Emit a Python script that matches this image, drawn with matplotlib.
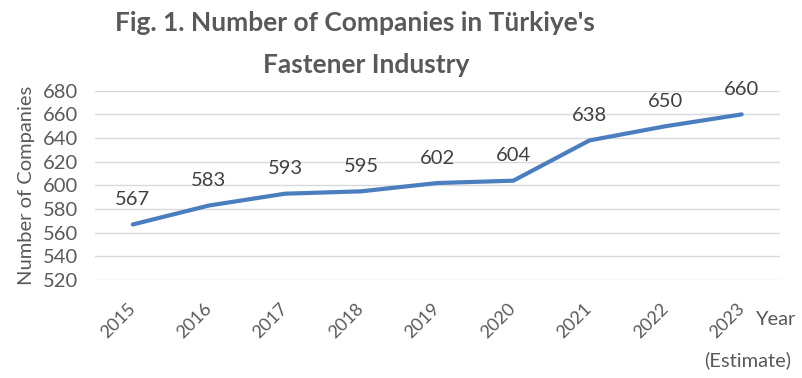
import matplotlib
matplotlib.use("Agg")
import matplotlib.pyplot as plt

years = ["2015", "2016", "2017", "2018", "2019", "2020", "2021", "2022", "2023"]
companies = [567, 583, 593, 595, 602, 604, 638, 650, 660]
y_ticks = [520, 540, 560, 580, 600, 620, 640, 660, 680]

plt.rcParams["font.family"] = ["Lato", "DejaVu Sans"]
text_color = "#595959"
fs = 14.5

fig = plt.figure(figsize=(8.03, 3.78), dpi=100)
ax = fig.add_axes([0.118, 0.259, 0.853, 0.501])

x = list(range(len(years)))
ax.plot(x, companies, color="#4a7ebf", linewidth=3, solid_capstyle="round")
for xi, v in zip(x, companies):
    ax.annotate(str(v), (xi, v), xytext=(0, 18), textcoords="offset points",
                ha="center", va="center", fontsize=fs, color="#404040")

ax.set_xlim(-0.5, len(years) - 0.5)
ax.set_ylim(520, 680)
ax.set_yticks(y_ticks)
ax.set_xticks(x)
ax.set_xticklabels(years, rotation=45, ha="right", va="center", rotation_mode="anchor")
ax.tick_params(axis="y", length=0, labelsize=fs, colors=text_color, pad=12)
ax.tick_params(axis="x", length=0, labelsize=13, colors=text_color, pad=19)
ax.grid(axis="y", color="#d9d9d9", linewidth=1)
ax.set_axisbelow(True)
for s in ax.spines.values():
    s.set_visible(False)

ax.set_ylabel("Number of Companies", fontsize=fs, color=text_color, labelpad=6)
fig.text(0.94, 0.155, "Year", fontsize=fs, color=text_color, ha="left", va="center")
fig.text(0.985, 0.048, "(Estimate)", fontsize=fs, color=text_color, ha="right", va="center")

fig.text(0.442, 0.94, "Fig. 1. Number of Companies in Türkiye's", fontsize=19,
         fontweight="bold", color=text_color, ha="center", va="center")
fig.text(0.456, 0.828, "Fastener Industry", fontsize=19,
         fontweight="bold", color=text_color, ha="center", va="center")

fig.savefig("out.png", dpi=100)
